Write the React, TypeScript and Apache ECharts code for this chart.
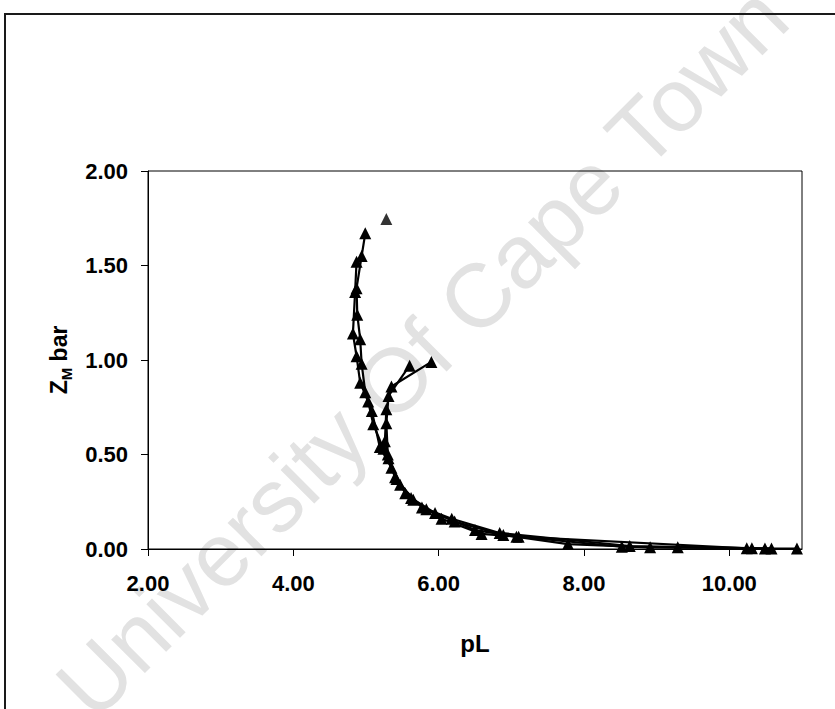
import React, { useEffect, useRef } from "react";
import * as echarts from "echarts";

// Titration curves: average ligand number (Z_M bar) against pL
const runA: [number, number][] = [
  [4.99, 1.67], [4.94, 1.55], [4.87, 1.38], [4.88, 1.24], [4.92, 1.11],
  [4.94, 0.98], [4.99, 0.83], [5.08, 0.73], [5.19, 0.54], [5.35, 0.43],
  [5.54, 0.295], [5.83, 0.21], [6.22, 0.145], [6.89, 0.074], [7.78, 0.026],
  [8.91, 0.009], [10.31, 0.004],
];
const runB: [number, number][] = [
  [4.87, 1.52], [4.85, 1.36], [4.82, 1.14], [4.87, 1.02], [4.92, 0.88],
  [5.03, 0.78], [5.10, 0.66], [5.24, 0.53], [5.40, 0.38], [5.65, 0.26],
  [6.04, 0.16], [6.59, 0.08], [7.10, 0.065], [8.52, 0.012], [9.29, 0.009],
  [10.49, 0.003], [10.93, 0.002],
];
const runC: [number, number][] = [
  [5.9, 0.99], [5.35, 0.86], [5.28, 0.74], [5.26, 0.57], [5.31, 0.48],
  [5.47, 0.34], [5.77, 0.22], [6.18, 0.16], [6.84, 0.085], [8.63, 0.016],
  [10.58, 0.003],
];
const runD: [number, number][] = [
  [5.6, 0.97], [5.31, 0.81], [5.28, 0.665], [5.30, 0.50], [5.42, 0.37],
  [5.62, 0.27], [5.95, 0.19], [6.5, 0.10], [7.07, 0.065], [10.24, 0.004],
];
const loosePoint: [number, number][] = [[5.28, 1.746]];

const runs = [runA, runB, runC, runD];

const FONT = "Liberation Sans, Arial, sans-serif";

export default function App() {
  const ref = useRef<HTMLDivElement>(null);

  useEffect(() => {
    if (!ref.current) return;
    const chart = echarts.init(ref.current, undefined, { renderer: "svg" });

    const lineSeries = runs.map((data) => ({
      type: "line",
      data,
      symbol: "triangle",
      symbolSize: 12,
      itemStyle: { color: "#000" },
      lineStyle: { color: "#000", width: 2.2 },
      z: 3,
    }));

    chart.setOption({
      animation: false,
      backgroundColor: "#fff",
      graphic: [
        {
          type: "text",
          x: 422,
          y: 352,
          rotation: Math.PI / 4,
          z: -10,
          silent: true,
          style: {
            text: "University Of Cape Town",
            font: `90px ${FONT}`,
            fill: "#e2e2e2",
            textAlign: "center",
            textVerticalAlign: "middle",
          },
        },
        {
          type: "rect",
          z: 10,
          shape: { x: 5, y: 14, width: 900, height: 800 },
          style: { fill: "none", stroke: "#1a1a1a", lineWidth: 2 },
        },
      ],
      grid: {
        left: 148,
        top: 171,
        width: 654,
        height: 378,
        show: true,
        borderColor: "#000",
        borderWidth: 1,
        backgroundColor: "transparent",
      },
      xAxis: {
        type: "value",
        min: 2,
        max: 11,
        interval: 2,
        name: "pL",
        nameLocation: "middle",
        nameGap: 82,
        nameTextStyle: { fontFamily: FONT, fontWeight: "bold", fontSize: 24, color: "#000" },
        axisLine: { show: true, onZero: false, lineStyle: { color: "#000", width: 1 } },
        axisTick: { show: true, inside: false, length: 7, lineStyle: { color: "#000" } },
        splitLine: { show: false },
        axisLabel: {
          showMaxLabel: false,
          margin: 23,
          fontFamily: FONT,
          fontWeight: "bold",
          fontSize: 22,
          color: "#000",
          formatter: (v: number) => v.toFixed(2),
        },
      },
      yAxis: {
        type: "value",
        min: 0,
        max: 2,
        interval: 0.5,
        name: "{b|Z}{s|M}{b| bar}",
        nameLocation: "middle",
        nameRotate: 90,
        nameGap: 58,
        nameTextStyle: {
          color: "#000",
          rich: {
            b: { fontFamily: FONT, fontWeight: "bold", fontSize: 23, color: "#000", lineHeight: 30, verticalAlign: "middle" },
            s: { fontFamily: FONT, fontWeight: "bold", fontSize: 15, color: "#000", lineHeight: 30, verticalAlign: "bottom" },
          },
        },
        axisLine: { show: true, lineStyle: { color: "#000", width: 1 } },
        axisTick: { show: true, inside: false, length: 7, lineStyle: { color: "#000" } },
        splitLine: { show: false },
        axisLabel: {
          margin: 20,
          fontFamily: FONT,
          fontWeight: "bold",
          fontSize: 22,
          color: "#000",
          formatter: (v: number) => v.toFixed(2),
        },
      },
      series: [
        ...lineSeries,
        {
          type: "scatter",
          data: loosePoint,
          symbol: "triangle",
          symbolSize: 12,
          itemStyle: { color: "#000" },
          z: 3,
        },
      ],
    });

    return () => chart.dispose();
  }, []);

  return (
    <div
      ref={ref}
      style={{ position: "absolute", left: 0, top: 0, width: 835, height: 709 }}
    />
  );
}
